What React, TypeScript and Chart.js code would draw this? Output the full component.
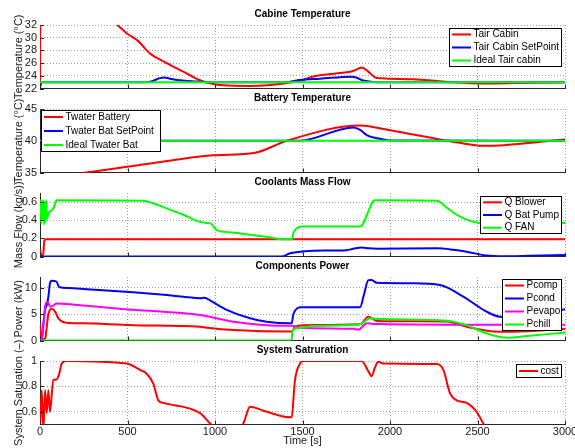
import React, { useEffect, useRef } from "react";
import { Chart, registerables } from "chart.js";
Chart.register(...registerables);

const FONT = "'Liberation Sans', Arial, Helvetica, sans-serif";
const AXIS = "#262626";
const GRID = "#a0a0a0";
const TXT = "#1a1a1a";

// ---- shared x axis ----
const X_MIN = 0;
const X_MAX = 3000;
const X_STEP = 500;

// ---- Cabine Temperature ----
const cabTairT = [0, 3, 200, 350, 442, 495, 560, 629, 724, 819, 914, 990, 1050, 1200, 1300, 1371, 1486, 1562, 1700, 1790, 1838, 1876, 1914, 1950, 2133, 2300, 2419, 2514, 2700, 3000];
const cabTairV = [22, 40, 37.5, 34.2, 32, 30.7, 29.5, 27.5, 26.0, 24.65, 23.3, 22.7, 22.5, 22.4, 22.5, 22.7, 23.2, 23.9, 24.4, 24.75, 25.3, 24.65, 23.75, 23.6, 23.45, 23.1, 22.9, 22.8, 22.85, 23.0];
const cabSetT = [0, 8, 600, 640, 680, 710, 750, 800, 900, 950, 1400, 1486, 1600, 1781, 1810, 1840, 1880, 1920, 3000];
const cabSetV = [22, 23, 23, 23.15, 23.6, 23.75, 23.5, 23.3, 23.1, 23, 23, 23.35, 23.55, 23.86, 23.7, 23.3, 23.1, 23, 23];
const cabIdealT = [0, 3000];
const cabIdealV = [23, 23];

// ---- Battery Temperature ----
const batTwT = [0, 267, 495, 750, 990, 1229, 1410, 1829, 2000, 2305, 2450, 2540, 2650, 2850, 3000];
const batTwV = [34.0, 35.0, 35.9, 36.9, 37.7, 38.1, 40.0, 42.4, 41.65, 40.1, 39.45, 39.2, 39.3, 39.8, 40.2];
const batSetT = [0, 12, 1480, 1790, 1830, 1867, 1943, 2000, 3000];
const batSetV = [40.4, 40, 40, 42.1, 41.7, 40.9, 40.3, 40.05, 40];
const batIdealT = [0, 3000];
const batIdealV = [40, 40];

// ---- Coolants Mass Flow ----
const blowT = [0, 8, 18, 25, 35, 3000];
const blowV = [0.08, 0.01, 0.02, 0.18, 0.19, 0.19];
const pumpT = [0, 1380, 1429, 1500, 1562, 1752, 1790, 1838, 1880, 1924, 2267, 2360, 2438, 2552, 2650, 2800, 3000];
const pumpV = [0, 0, 0.035, 0.055, 0.064, 0.07, 0.085, 0.1, 0.09, 0.086, 0.09, 0.075, 0.053, 0.01, 0.002, 0.008, 0.017];
const fanT = [0, 4, 8, 12, 16, 20, 24, 28, 32, 36, 40, 50, 60, 70, 80, 95, 590, 650, 724, 819, 900, 952, 975, 1010, 1100, 1200, 1300, 1390, 1440, 1448, 1500, 1829, 1914, 2267, 2330, 2400, 2514, 2700, 3000];
const fanV = [0.38, 0.62, 0.36, 0.62, 0.40, 0.62, 0.35, 0.60, 0.38, 0.62, 0.42, 0.48, 0.50, 0.51, 0.55, 0.62, 0.615, 0.585, 0.53, 0.46, 0.39, 0.37, 0.365, 0.29, 0.265, 0.24, 0.215, 0.19, 0.19, 0.26, 0.33, 0.33, 0.62, 0.615, 0.53, 0.44, 0.37, 0.37, 0.37];

// ---- Components Power ----
const compT = [0, 8, 20, 30, 40, 48, 67, 86, 105, 124, 150, 248, 533, 914, 952, 1105, 1429, 1438, 1457, 1505, 1829, 1876, 1924, 2324, 2438, 2590, 2700, 3000];
const compV = [3.2, 0.4, 0.3, 0.4, 3.0, 5.0, 6.0, 5.45, 4.2, 3.6, 3.35, 3.25, 2.9, 2.6, 2.4, 2.0, 1.7, 1.7, 2.6, 2.9, 3.05, 4.5, 3.7, 3.6, 2.6, 1.7, 1.65, 2.2];
const condT = [0, 10, 22, 30, 38, 48, 57, 67, 95, 109, 162, 248, 533, 724, 914, 940, 955, 971, 1067, 1200, 1295, 1429, 1438, 1448, 1495, 1829, 1850, 1876, 1895, 1924, 2133, 2286, 2419, 2552, 2629, 2750, 2900, 3000];
const condV = [0, 0.3, 4.0, 6.0, 6.6, 8.3, 10.8, 11.3, 11.1, 10.1, 9.9, 9.75, 9.1, 8.6, 8.0, 8.1, 7.9, 7.6, 5.8, 4.2, 3.55, 3.25, 3.25, 5.0, 6.3, 6.3, 8.5, 11.4, 11.45, 10.9, 10.8, 10.5, 8.3, 5.45, 4.5, 4.4, 5.2, 5.9];
const evapT = [0, 10, 20, 29, 44, 57, 76, 95, 124, 533, 914, 1105, 1295, 1429, 1438, 1486, 1790, 1820, 1867, 1924, 2324, 3000];
const evapV = [0, 0.2, 3.0, 6.4, 7.3, 6.4, 6.6, 7.0, 6.95, 5.8, 4.8, 3.55, 2.9, 2.8, 2.8, 2.4, 2.2, 2.05, 3.25, 3.1, 3.0, 3.0];
const chillT = [0, 1438, 1441, 1467, 1562, 1829, 1886, 1943, 2324, 2438, 2552, 2667, 2800, 3000];
const chillV = [0, 0, 1.7, 2.3, 2.75, 3.05, 4.2, 4.05, 3.75, 2.9, 1.35, 0.53, 0.9, 1.5];

// ---- System Saturation ----
const costT = [0, 10, 19, 29, 38, 48, 57, 76, 95, 110, 124, 152, 495, 571, 610, 648, 676, 705, 914, 971, 1060, 1162, 1200, 1295, 1429, 1438, 1457, 1486, 1505, 1838, 1876, 1895, 1914, 1933, 1962, 2267, 2305, 2343, 2381, 2438, 2495, 2533, 2600, 3000];
const costV = [0.45, 0.77, 0.45, 0.77, 0.59, 0.77, 0.6, 0.85, 0.855, 0.9, 0.98, 1.0, 0.98, 0.93, 0.9, 0.82, 0.69, 0.67, 0.59, 0.51, 0.4, 0.51, 0.64, 0.6, 0.557, 0.56, 0.85, 0.98, 1.0, 1.0, 0.92, 0.88, 0.95, 0.995, 0.98, 0.976, 0.93, 0.745, 0.69, 0.67, 0.6, 0.51, 0.4, 0.2];

type Series = { label: string; color: string; t: number[]; v: number[] };
type LegendBox = { dx: number; dy: number; w: number; h: number };
type PanelSpec = {
  title: string;
  yTitle: string;
  yMin: number;
  yMax: number;
  yStep: number;
  series: Series[];
  legend: LegendBox;
  top: number;
  last: boolean;
};

const PANELS: PanelSpec[] = [
  {
    title: "Cabine Temperature", yTitle: "Temperature (°C)", yMin: 22, yMax: 32, yStep: 2,
    series: [
      { label: "Tair Cabin", color: "#ff0000", t: cabTairT, v: cabTairV },
      { label: "Tair Cabin SetPoint", color: "#0000ff", t: cabSetT, v: cabSetV },
      { label: "Ideal Tair cabin", color: "#00ff00", t: cabIdealT, v: cabIdealV },
    ],
    legend: { dx: 409, dy: 3, w: 113, h: 39 }, top: 0, last: false,
  },
  {
    title: "Battery Temperature", yTitle: "Temperature (°C)", yMin: 35, yMax: 45, yStep: 5,
    series: [
      { label: "Twater Battery", color: "#ff0000", t: batTwT, v: batTwV },
      { label: "Twater Bat SetPoint", color: "#0000ff", t: batSetT, v: batSetV },
      { label: "Ideal Twater Bat", color: "#00ff00", t: batIdealT, v: batIdealV },
    ],
    legend: { dx: 1, dy: 1, w: 120, h: 42 }, top: 84, last: false,
  },
  {
    title: "Coolants Mass Flow", yTitle: "Mass Flow (kg/s))", yMin: 0, yMax: 0.7, yStep: 0.2,
    series: [
      { label: "Q Blower", color: "#ff0000", t: blowT, v: blowV },
      { label: "Q Bat Pump", color: "#0000ff", t: pumpT, v: pumpV },
      { label: "Q FAN", color: "#00ff00", t: fanT, v: fanV },
    ],
    legend: { dx: 440, dy: 3, w: 82, h: 38 }, top: 168, last: false,
  },
  {
    title: "Components Power", yTitle: "Power (kW)", yMin: 0, yMax: 12, yStep: 5,
    series: [
      { label: "Pcomp", color: "#ff0000", t: compT, v: compV },
      { label: "Pcond", color: "#0000ff", t: condT, v: condV },
      { label: "Pevapo", color: "#ff00ff", t: evapT, v: evapV },
      { label: "Pchill", color: "#00ff00", t: chillT, v: chillV },
    ],
    legend: { dx: 462, dy: 2, w: 60, h: 52 }, top: 252, last: false,
  },
  {
    title: "System Satruration", yTitle: "System Saturation (–)", yMin: 0.5, yMax: 1, yStep: 0.2,
    series: [{ label: "cost", color: "#ff0000", t: costT, v: costV }],
    legend: { dx: 476, dy: 3, w: 46, h: 14 }, top: 336, last: true,
  },
];

const PLOT_TOP = 25;
const PLOT_H = 63.5;

const fmt = (v: number | string) => String(Math.round(Number(v) * 1000) / 1000);

function makeDecor(spec: PanelSpec) {
  return {
    id: "panelDecor",
    afterDraw(chart: any) {
      const { ctx, chartArea: a, scales } = chart;
      ctx.save();
      // inward tick marks
      ctx.strokeStyle = AXIS;
      ctx.lineWidth = 1;
      ctx.beginPath();
      scales.x.ticks.forEach((tk: any) => {
        const px = Math.round(scales.x.getPixelForValue(tk.value)) + 0.5;
        ctx.moveTo(px, a.bottom);
        ctx.lineTo(px, a.bottom - 4);
      });
      scales.y.ticks.forEach((tk: any) => {
        const py = Math.round(scales.y.getPixelForValue(tk.value)) + 0.5;
        ctx.moveTo(a.left, py);
        ctx.lineTo(a.left + 4, py);
      });
      ctx.stroke();
      // title
      ctx.fillStyle = "#000";
      ctx.font = `bold 10px ${FONT}`;
      ctx.textAlign = "center";
      ctx.textBaseline = "middle";
      ctx.fillText(spec.title, (a.left + a.right) / 2, a.top - 11);
      // legend
      const L = spec.legend;
      const bx = Math.round(a.left + L.dx);
      const by = Math.round(a.top + L.dy);
      ctx.fillStyle = "#fff";
      ctx.fillRect(bx, by, L.w, L.h);
      ctx.strokeStyle = "#000";
      ctx.lineWidth = 1;
      ctx.strokeRect(bx + 0.5, by + 0.5, L.w - 1, L.h - 1);
      const n = spec.series.length;
      const rowH = L.h / n;
      spec.series.forEach((s, i) => {
        const cy = by + rowH * (i + 0.5);
        ctx.strokeStyle = s.color;
        ctx.lineWidth = 2;
        ctx.beginPath();
        ctx.moveTo(bx + 3, cy);
        ctx.lineTo(bx + 22, cy);
        ctx.stroke();
        ctx.fillStyle = "#000";
        ctx.font = `10px ${FONT}`;
        ctx.textAlign = "left";
        ctx.textBaseline = "middle";
        ctx.fillText(s.label, bx + 24.5, cy);
      });
      ctx.restore();
    },
  };
}

function Panel({ spec }: { spec: PanelSpec }) {
  const ref = useRef<HTMLCanvasElement | null>(null);
  const canvasH = spec.last ? 112 : 118;
  useEffect(() => {
    if (!ref.current) return;
    const n = spec.series.length;
    const chart = new Chart(ref.current, {
      type: "line",
      data: {
        datasets: spec.series.map((s, i) => ({
          label: s.label,
          data: s.t.map((x, k) => ({ x, y: s.v[k] })),
          borderColor: s.color,
          backgroundColor: s.color,
          borderWidth: 2,
          pointRadius: 0,
          fill: false,
          cubicInterpolationMode: "monotone" as const,
          order: n - i,
        })),
      },
      options: {
        responsive: false,
        animation: false,
        devicePixelRatio: window.devicePixelRatio || 1,
        layout: { padding: { top: PLOT_TOP, right: 10, left: 0, bottom: spec.last ? 0 : canvasH - PLOT_TOP - PLOT_H } },
        plugins: { legend: { display: false }, tooltip: { enabled: false }, title: { display: false } },
        scales: {
          x: {
            type: "linear",
            min: X_MIN,
            max: X_MAX,
            ticks: {
              stepSize: X_STEP,
              display: spec.last,
              font: { size: 11, family: FONT },
              color: TXT,
              padding: 1,
              maxRotation: 0,
              autoSkip: false,
              callback: (v: any) => fmt(v),
            },
            grid: { color: GRID, drawTicks: false, lineWidth: 1 },
            border: { display: true, color: AXIS, width: 1, dash: [1, 2] },
            title: {
              display: spec.last,
              text: "Time [s]",
              font: { size: 11, family: FONT },
              color: TXT,
              padding: { top: 0, bottom: 0 },
            },
            afterFit: (s: any) => {
              s.height = spec.last ? canvasH - PLOT_TOP - PLOT_H : 0;
              s.paddingLeft = 0;
              s.paddingRight = 0;
            },
          },
          y: {
            type: "linear",
            min: spec.yMin,
            max: spec.yMax,
            ticks: {
              stepSize: spec.yStep,
              includeBounds: false,
              autoSkip: false,
              font: { size: 11, family: FONT },
              color: TXT,
              padding: 3,
              callback: (v: any) => fmt(v),
            },
            grid: { color: GRID, drawTicks: false, lineWidth: 1 },
            border: { display: true, color: AXIS, width: 1, dash: [1, 2] },
            title: {
              display: true,
              text: spec.yTitle,
              font: { size: 11, family: FONT },
              color: TXT,
              padding: { top: 12, bottom: 0 },
            },
            afterFit: (s: any) => {
              s.width = 40;
              s.paddingTop = 0;
              s.paddingBottom = 0;
            },
          },
        },
      } as any,
      plugins: [makeDecor(spec)],
    });
    return () => chart.destroy();
  }, [spec, canvasH]);
  return (
    <canvas
      ref={ref}
      width={575}
      height={canvasH}
      style={{ position: "absolute", left: 0, top: spec.top, width: 575, height: canvasH }}
    />
  );
}

export default function App() {
  return (
    <div style={{ position: "fixed", left: 0, top: 0, width: 575, height: 448, background: "#fff", overflow: "hidden" }}>
      {PANELS.map((p) => (
        <Panel key={p.title} spec={p} />
      ))}
    </div>
  );
}
